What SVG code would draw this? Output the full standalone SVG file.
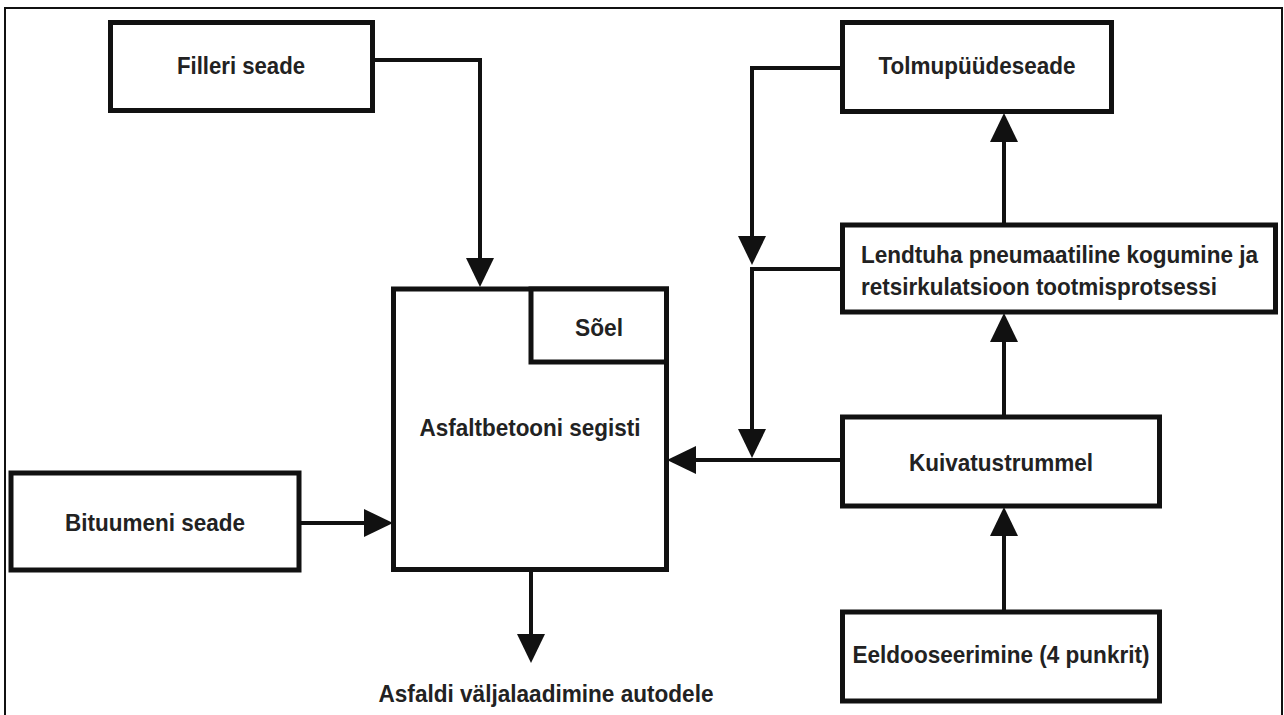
<svg xmlns="http://www.w3.org/2000/svg" width="1284" height="715" viewBox="0 0 1284 715">
<style>
.box{fill:#fff;stroke:#111;stroke-width:5}
.ln{fill:none;stroke:#111;stroke-width:4}
.t{font-family:"Liberation Sans",Arial,sans-serif;font-size:24px;font-weight:bold;fill:#222;text-anchor:middle}
.tl{text-anchor:start}
</style>
<defs>
<marker id="ah" markerUnits="userSpaceOnUse" markerWidth="30" markerHeight="30" viewBox="0 -15 30 30" refX="0" refY="0" orient="auto">
<path d="M0,-14 L29,0 L0,14 Z" fill="#111"/>
</marker>
</defs>
<rect x="5" y="8" width="1277" height="720" fill="#fff" stroke="#111" stroke-width="2"/>
<g id="connectors">
<path class="ln" d="M373,60 H480 V258" marker-end="url(#ah)"/>
<path class="ln" d="M299,523 H364" marker-end="url(#ah)"/>
<path class="ln" d="M531,569 V634" marker-end="url(#ah)"/>
<path class="ln" d="M842,460 H696" marker-end="url(#ah)"/>
<path class="ln" d="M842,68 H752 V236" marker-end="url(#ah)"/>
<path class="ln" d="M842,269 H752 V429" marker-end="url(#ah)"/>
<path class="ln" d="M1004,417 V342" marker-end="url(#ah)"/>
<path class="ln" d="M1004,225 V142" marker-end="url(#ah)"/>
<path class="ln" d="M1004,612 V536" marker-end="url(#ah)"/>
</g>
<g id="filleri">
<rect class="box" x="110.5" y="22.5" width="262" height="88"/>
<text class="t" x="241" y="74" textLength="128" lengthAdjust="spacingAndGlyphs">Filleri seade</text>
</g>
<g id="tolmu">
<rect class="box" x="842.5" y="22.5" width="269" height="89"/>
<text class="t" x="977" y="74" textLength="197" lengthAdjust="spacingAndGlyphs">Tolmupüüdeseade</text>
</g>
<g id="lendtuha">
<rect class="box" x="842.5" y="225" width="433" height="87"/>
<text class="t tl" x="861" y="263" textLength="397" lengthAdjust="spacingAndGlyphs">Lendtuha pneumaatiline kogumine ja</text>
<text class="t tl" x="861" y="295" textLength="356" lengthAdjust="spacingAndGlyphs">retsirkulatsioon tootmisprotsessi</text>
</g>
<g id="segisti">
<rect class="box" x="393.5" y="289" width="273" height="280.5"/>
<text class="t" x="530" y="436" textLength="221" lengthAdjust="spacingAndGlyphs">Asfaltbetooni segisti</text>
</g>
<g id="soel">
<rect class="box" x="531" y="289" width="135.5" height="73"/>
<text class="t" x="599" y="336" textLength="48" lengthAdjust="spacingAndGlyphs">Sõel</text>
</g>
<g id="bituumeni">
<rect class="box" x="11" y="473" width="288" height="97"/>
<text class="t" x="155" y="531" textLength="180" lengthAdjust="spacingAndGlyphs">Bituumeni seade</text>
</g>
<g id="kuivatus">
<rect class="box" x="842.5" y="417" width="317" height="89"/>
<text class="t" x="1001" y="471" textLength="184" lengthAdjust="spacingAndGlyphs">Kuivatustrummel</text>
</g>
<g id="eeldoos">
<rect class="box" x="842.5" y="612" width="317" height="89"/>
<text class="t" x="1001" y="663" textLength="297" lengthAdjust="spacingAndGlyphs">Eeldooseerimine (4 punkrit)</text>
</g>
<g id="valjalaadimine">
<text class="t" x="546" y="702" textLength="335" lengthAdjust="spacingAndGlyphs">Asfaldi väljalaadimine autodele</text>
</g>
</svg>
